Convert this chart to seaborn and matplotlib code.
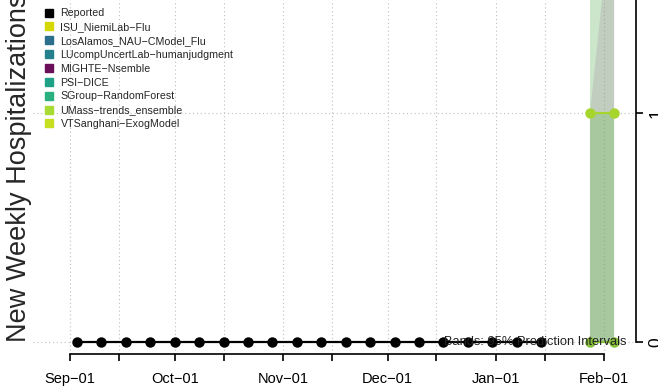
import matplotlib
matplotlib.use("Agg")
import matplotlib.pyplot as plt
import matplotlib.dates as mdates
from matplotlib.lines import Line2D
from matplotlib.ticker import FuncFormatter
import pandas as pd
import seaborn as sns

# reported weekly hospitalizations
reported_dates = pd.date_range("2022-09-03", periods=20, freq="7D")
reported_values = [0] * 20

# forecasts (two target weeks)
forecast_dates = pd.to_datetime(["2023-01-28", "2023-02-04"])
band_lower = [[0, 0], [0, 0], [0, 0]]
band_upper = [[3, 3], [1, 2], [1, 1]]
band_colors = ["#8fc98f", "#6a0d59", "#6fbb55"]
band_alpha = [0.45, 0.11, 0.3]
median_upper_model = [1, 1]
median_lower_model = [0, 0]

legend_labels = [
    "Reported",
    "ISU_NiemiLab\u2212Flu",
    "LosAlamos_NAU\u2212CModel_Flu",
    "LUcompUncertLab\u2212humanjudgment",
    "MIGHTE\u2212Nsemble",
    "PSI\u2212DICE",
    "SGroup\u2212RandomForest",
    "UMass\u2212trends_ensemble",
    "VTSanghani\u2212ExogModel",
]
legend_colors = ["#000000", "#d4d800", "#2c6e8e", "#25808e", "#6b0f5a",
                 "#1fa187", "#2ab07f", "#a8db34", "#c6e021"]

sns.set_theme(style="ticks")
plt.rcParams["font.family"] = ["Liberation Sans", "DejaVu Sans"]

fig = plt.figure(figsize=(6.58, 3.91), dpi=100)
ax = fig.add_axes([33 / 658, 37 / 391, (636 - 33) / 658, 354 / 391])

sep1 = pd.Timestamp("2022-09-01")
ax.set_xlim(sep1 - pd.Timedelta(days=10.6), sep1 + pd.Timedelta(days=162.2))
ax.set_ylim(-0.052, 1.493)

# bands
for lo, up, c, a in zip(band_lower, band_upper, band_colors, band_alpha):
    ax.fill_between(forecast_dates, lo, up, color=c, alpha=a, linewidth=0, zorder=1)

rep = pd.DataFrame({"date": reported_dates, "value": reported_values})
sns.lineplot(data=rep, x="date", y="value", color="black", marker="o",
             markersize=7.5, markeredgewidth=0, linewidth=1.6, ax=ax, zorder=3)

f1 = pd.DataFrame({"date": forecast_dates, "value": median_upper_model})
sns.lineplot(data=f1, x="date", y="value", color="#a6d62e", marker="o",
             markersize=7.5, markeredgewidth=0, linewidth=1.6, ax=ax, zorder=3)
f0 = pd.DataFrame({"date": forecast_dates, "value": median_lower_model})
sns.lineplot(data=f0, x="date", y="value", color="#86c03a", marker="o",
             markersize=7.5, markeredgewidth=0, linewidth=1.6, ax=ax, zorder=3)

# x axis: ticks on the 1st and 15th, labels only on the 1st
ticks = []
for m in pd.date_range("2022-09-01", "2023-02-01", freq="MS"):
    ticks.append(m)
    if m < pd.Timestamp("2023-02-01"):
        ticks.append(m + pd.Timedelta(days=14))
ax.set_xticks(ticks)
ax.xaxis.set_major_formatter(FuncFormatter(
    lambda v, p: (lambda d: f"{d:%b}\u2212{d:%d}" if d.day == 1 else "")(mdates.num2date(v))))
ax.set_yticks([0, 1])
ax.yaxis.tick_right()
for lbl in ax.get_yticklabels():
    lbl.set_rotation(90)
    lbl.set_va("center")
ax.tick_params(axis="x", labelsize=10.5, length=5, width=1.2, pad=8, colors="black")
ax.tick_params(axis="y", labelsize=12.5, length=5, width=1.2, pad=4, colors="black")

for side in ["left", "top"]:
    ax.spines[side].set_visible(False)
ax.spines["bottom"].set_bounds(mdates.date2num(sep1), mdates.date2num(pd.Timestamp("2023-02-01")))
ax.spines["right"].set_bounds(0, 1.493)
for side in ["bottom", "right"]:
    ax.spines[side].set_linewidth(1.2)
    ax.spines[side].set_color("black")

ax.grid(True, linestyle=(0, (1, 2.5)), color="#bdbdbd", linewidth=0.8)
ax.set_axisbelow(True)

ax.set_xlabel("")
ax.set_ylabel("")
fig.text(19 / 658, 1 - 168 / 391, "New Weekly Hospitalizations", rotation=90,
         ha="center", va="center", fontsize=19.5)

ax.text(0.985, 0.052 / 1.545, "Bands: 95% Prediction Intervals", transform=ax.transAxes,
        ha="right", va="center", fontsize=9.3, color="#222222", zorder=5)

handles = [Line2D([0], [0], marker="s", linestyle="", markersize=6, color=c) for c in legend_colors]
fig.legend(handles, legend_labels, loc="upper left", bbox_to_anchor=(38 / 658, 1 - 3 / 391),
           frameon=False, fontsize=7.7, labelspacing=0.36, handlelength=1.0,
           handletextpad=0.6, borderpad=0)

fig.savefig("out.png", dpi=100)
